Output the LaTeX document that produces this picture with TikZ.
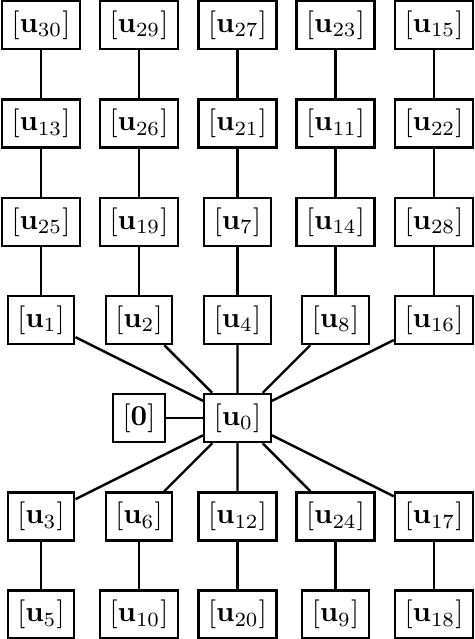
\documentclass[tikz,border=0pt]{standalone}
\begin{document}
\begin{tikzpicture}[x=0.3472pt,y=-0.3472pt,
  box/.style={draw,line width=0.85pt,fill=white,inner sep=0.3333em},
  link/.style={line width=0.85pt}]
\useasboundingbox (0,0) rectangle (474,639);
\def\ra{25}\def\rb{123.5}\def\rc{222}\def\rd{320}\def\re{418}\def\rf{516.5}\def\rg{614.5}
\def\ca{41}\def\cb{139}\def\cc{237.5}\def\cd{335.5}\def\ce{434}
\node[box] (u30) at (\ca,\ra) {$[\mathbf{u}_{30}]$};
\node[box] (u29) at (\cb,\ra) {$[\mathbf{u}_{29}]$};
\node[box] (u27) at (\cc,\ra) {$[\mathbf{u}_{27}]$};
\node[box] (u23) at (\cd,\ra) {$[\mathbf{u}_{23}]$};
\node[box] (u15) at (\ce,\ra) {$[\mathbf{u}_{15}]$};
\node[box] (u13) at (\ca,\rb) {$[\mathbf{u}_{13}]$};
\node[box] (u26) at (\cb,\rb) {$[\mathbf{u}_{26}]$};
\node[box] (u21) at (\cc,\rb) {$[\mathbf{u}_{21}]$};
\node[box] (u11) at (\cd,\rb) {$[\mathbf{u}_{11}]$};
\node[box] (u22) at (\ce,\rb) {$[\mathbf{u}_{22}]$};
\node[box] (u25) at (\ca,\rc) {$[\mathbf{u}_{25}]$};
\node[box] (u19) at (\cb,\rc) {$[\mathbf{u}_{19}]$};
\node[box] (u7) at (\cc,\rc) {$[\mathbf{u}_{7}]$};
\node[box] (u14) at (\cd,\rc) {$[\mathbf{u}_{14}]$};
\node[box] (u28) at (\ce,\rc) {$[\mathbf{u}_{28}]$};
\node[box] (u1) at (\ca,\rd) {$[\mathbf{u}_{1}]$};
\node[box] (u2) at (\cb,\rd) {$[\mathbf{u}_{2}]$};
\node[box] (u4) at (\cc,\rd) {$[\mathbf{u}_{4}]$};
\node[box] (u8) at (\cd,\rd) {$[\mathbf{u}_{8}]$};
\node[box] (u16) at (\ce,\rd) {$[\mathbf{u}_{16}]$};
\node[box] (z) at (\cb,\re) {$[\mathbf{0}]$};
\node[box] (u0) at (\cc,\re) {$[\mathbf{u}_{0}]$};
\node[box] (u3) at (\ca,\rf) {$[\mathbf{u}_{3}]$};
\node[box] (u6) at (\cb,\rf) {$[\mathbf{u}_{6}]$};
\node[box] (u12) at (\cc,\rf) {$[\mathbf{u}_{12}]$};
\node[box] (u24) at (\cd,\rf) {$[\mathbf{u}_{24}]$};
\node[box] (u17) at (\ce,\rf) {$[\mathbf{u}_{17}]$};
\node[box] (u5) at (\ca,\rg) {$[\mathbf{u}_{5}]$};
\node[box] (u10) at (\cb,\rg) {$[\mathbf{u}_{10}]$};
\node[box] (u20) at (\cc,\rg) {$[\mathbf{u}_{20}]$};
\node[box] (u9) at (\cd,\rg) {$[\mathbf{u}_{9}]$};
\node[box] (u18) at (\ce,\rg) {$[\mathbf{u}_{18}]$};
\draw[link] (u30)--(u13) (u13)--(u25) (u25)--(u1);
\draw[link] (u29)--(u26) (u26)--(u19) (u19)--(u2);
\draw[link] (u27)--(u21) (u21)--(u7) (u7)--(u4);
\draw[link] (u23)--(u11) (u11)--(u14) (u14)--(u8);
\draw[link] (u15)--(u22) (u22)--(u28) (u28)--(u16);
\draw[link] (u0)--(u1) (u0)--(u2) (u0)--(u4) (u0)--(u8) (u0)--(u16);
\draw[link] (u0)--(u3) (u0)--(u6) (u0)--(u12) (u0)--(u24) (u0)--(u17);
\draw[link] (u0)--(z);
\draw[link] (u3)--(u5) (u6)--(u10) (u12)--(u20) (u24)--(u9) (u17)--(u18);
\end{tikzpicture}
\end{document}
